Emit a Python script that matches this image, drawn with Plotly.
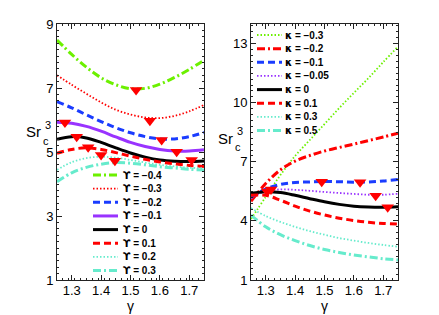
import plotly.graph_objects as go

# ---------------- data ----------------
gamma = [1.25, 1.30, 1.35, 1.40, 1.45, 1.50, 1.55, 1.60, 1.65, 1.70, 1.75]

# left panel: Sr_c^3 vs gamma for several Upsilon
ups_labels = ["ϒ = −0.4", "ϒ = −0.3", "ϒ = −0.2", "ϒ = −0.1",
              "ϒ = 0", "ϒ = 0.1", "ϒ = 0.2", "ϒ = 0.3"]
sr_ups_m04 = [8.50, 8.05, 7.65, 7.32, 7.10, 6.98, 6.99, 7.12, 7.33, 7.58, 7.87]
sr_ups_m03 = [7.40, 7.10, 6.82, 6.55, 6.32, 6.17, 6.08, 6.06, 6.13, 6.27, 6.47]
sr_ups_m02 = [6.57, 6.38, 6.16, 5.95, 5.76, 5.60, 5.48, 5.41, 5.41, 5.48, 5.61]
sr_ups_m01 = [5.93, 5.90, 5.80, 5.65, 5.47, 5.30, 5.17, 5.08, 5.03, 5.03, 5.07]
sr_ups_0 = [5.40, 5.48, 5.44, 5.30, 5.13, 4.97, 4.84, 4.75, 4.71, 4.70, 4.72]
sr_ups_p01 = [4.96, 5.08, 5.13, 5.08, 4.98, 4.87, 4.77, 4.69, 4.63, 4.58, 4.55]
sr_ups_p02 = [4.44, 4.68, 4.81, 4.85, 4.82, 4.75, 4.67, 4.60, 4.55, 4.51, 4.49]
sr_ups_p03 = [4.07, 4.35, 4.52, 4.62, 4.67, 4.65, 4.60, 4.54, 4.50, 4.46, 4.44]

# extrema markers (left)
ext_ups_gamma = [1.277, 1.317, 1.356, 1.400, 1.447, 1.519, 1.566, 1.606, 1.657, 1.708]
ext_ups_sr = [5.92, 5.48, 5.15, 4.91, 4.73, 6.94, 5.98, 5.375, 5.01, 4.75]

# right panel: Sr_c^3 vs gamma for several kappa
kap_labels = ["κ = −0.3", "κ = −0.2", "κ = −0.1", "κ = −0.05",
              "κ = 0", "κ = 0.1", "κ = 0.3", "κ = 0.5"]
sr_kap_m03 = [4.10, 5.22, 6.33, 7.30, 8.11, 8.92, 9.73, 10.50, 11.26, 12.07, 12.85]
sr_kap_m02 = [5.00, 5.90, 6.59, 7.04, 7.32, 7.55, 7.73, 7.90, 8.08, 8.26, 8.45]
sr_kap_m01 = [5.20, 5.62, 5.85, 5.95, 5.98, 6.00, 5.99, 5.97, 5.98, 6.03, 6.11]
sr_kap_m005 = [5.15, 5.52, 5.60, 5.58, 5.53, 5.47, 5.42, 5.37, 5.33, 5.33, 5.38]
sr_kap_0 = [5.40, 5.48, 5.44, 5.30, 5.13, 4.97, 4.84, 4.75, 4.71, 4.70, 4.72]
sr_kap_p01 = [5.30, 5.30, 5.05, 4.75, 4.50, 4.30, 4.14, 4.02, 3.93, 3.87, 3.84]
sr_kap_p03 = [4.65, 4.25, 3.95, 3.70, 3.48, 3.30, 3.13, 3.00, 2.88, 2.78, 2.69]
sr_kap_p05 = [4.30, 3.70, 3.30, 3.00, 2.75, 2.55, 2.40, 2.27, 2.17, 2.08, 2.02]

ext_kap_gamma = [1.305, 1.318, 1.4905, 1.621, 1.674, 1.715]
ext_kap_sr = [5.50, 5.60, 5.99, 5.96, 5.28, 4.69]

x_ticks = [1.3, 1.4, 1.5, 1.6, 1.7]
x_ticktext = ["1.3", "1.4", "1.5", "1.6", "1.7"]
y1_ticks = [1, 3, 5, 7, 9]
y2_ticks = [1, 4, 7, 10, 13]

# ---------------- styles ----------------
GREEN = "#6CF000"
RED = "#FF0000"
BLUE = "#1A3CFF"
PURPLE = "#9933FF"
AQUA = "#66EBCC"
DOT = "1.5px,2px"
DASH = "7px,4px"
DASHDOT = "8px,3px,2px,3px"

ups_series = [sr_ups_m04, sr_ups_m03, sr_ups_m02, sr_ups_m01,
              sr_ups_0, sr_ups_p01, sr_ups_p02, sr_ups_p03]
ups_styles = [
    dict(color=GREEN, width=3, dash=DASHDOT),
    dict(color=RED, width=1.8, dash=DOT),
    dict(color=BLUE, width=3, dash=DASH),
    dict(color=PURPLE, width=3, dash="solid"),
    dict(color="black", width=3, dash="solid"),
    dict(color=RED, width=3, dash=DASH),
    dict(color=AQUA, width=1.8, dash=DOT),
    dict(color=AQUA, width=3, dash=DASHDOT),
]
kap_series = [sr_kap_m03, sr_kap_m02, sr_kap_m01, sr_kap_m005,
              sr_kap_0, sr_kap_p01, sr_kap_p03, sr_kap_p05]
kap_styles = [
    dict(color=GREEN, width=1.8, dash=DOT),
    dict(color=RED, width=3, dash=DASHDOT),
    dict(color=BLUE, width=3, dash=DASH),
    dict(color=PURPLE, width=1.8, dash=DOT),
    dict(color="black", width=3, dash="solid"),
    dict(color=RED, width=3, dash=DASH),
    dict(color=AQUA, width=1.8, dash=DOT),
    dict(color=AQUA, width=3, dash=DASHDOT),
]

W, H = 439, 315
PAGE_OFF = 8  # default body margin of the html page
FONT = "Liberation Sans, Arial, Helvetica, sans-serif"
SYMFONT = "DejaVu Sans"

fig = go.Figure()
for sr, st, lab in zip(ups_series, ups_styles, ups_labels):
    fig.add_trace(go.Scatter(x=gamma, y=sr, mode="lines", name=lab,
                             line=dict(shape="spline", **st),
                             xaxis="x", yaxis="y", showlegend=False))
fig.add_trace(go.Scatter(x=ext_ups_gamma, y=ext_ups_sr, mode="markers",
                         marker=dict(symbol="triangle-down", size=11, color=RED,
                                     line=dict(width=0)),
                         xaxis="x", yaxis="y", showlegend=False))
for sr, st, lab in zip(kap_series, kap_styles, kap_labels):
    fig.add_trace(go.Scatter(x=gamma, y=sr, mode="lines", name=lab,
                             line=dict(shape="spline", **st),
                             xaxis="x2", yaxis="y2", showlegend=False))
fig.add_trace(go.Scatter(x=ext_kap_gamma, y=ext_kap_sr, mode="markers",
                         marker=dict(symbol="triangle-down", size=11, color=RED,
                                     line=dict(width=0)),
                         xaxis="x2", yaxis="y2", showlegend=False))


def px_x(p):
    return (p - PAGE_OFF) / W


def px_y(p):
    return 1 - (p - PAGE_OFF) / H


def fmt_label(lab):
    head, rest = lab[0], lab[1:]
    return ('<b><span style="font-family:%s">%s</span>%s</b>' % (SYMFONT, head, rest))


# ---------------- legends (drawn in paper space) ----------------
shapes = []
annotations = []


def build_legend(labels, styles, x0, x1, xt, ytop, step):
    for i, (lab, st) in enumerate(zip(labels, styles)):
        yy = ytop + i * step
        shapes.append(dict(type="line", xref="paper", yref="paper",
                           x0=px_x(x0), x1=px_x(x1), y0=px_y(yy), y1=px_y(yy),
                           line=dict(color=st["color"], width=st["width"],
                                     dash=st["dash"])))
        annotations.append(dict(text=fmt_label(lab), xref="paper", yref="paper",
                                x=px_x(xt), y=px_y(yy), xanchor="left",
                                yanchor="middle", showarrow=False,
                                font=dict(size=10, color="black", family=FONT)))


build_legend(ups_labels, ups_styles, 93, 118, 121, 175, 13.65)
build_legend(kap_labels, kap_styles, 257, 282, 283, 35, 13.65)

# y-axis labels  Sr_c^3
for (sx, sy) in [(43, 132), (235, 138)]:
    annotations.append(dict(text="Sr", xref="paper", yref="paper", x=px_x(sx),
                            y=px_y(sy), xanchor="right", yanchor="middle",
                            showarrow=False, font=dict(size=15, family=FONT, color="black")))
    annotations.append(dict(text="3", xref="paper", yref="paper", x=px_x(sx),
                            y=px_y(sy - 7), xanchor="left", yanchor="middle",
                            showarrow=False, font=dict(size=11, family=FONT, color="black")))
    annotations.append(dict(text="c", xref="paper", yref="paper", x=px_x(sx - 2),
                            y=px_y(sy + 9), xanchor="left", yanchor="middle",
                            showarrow=False, font=dict(size=11, family=FONT, color="black")))

# x-axis titles
for cx in [130.5, 324.5]:
    annotations.append(dict(text="γ", xref="paper", yref="paper", x=px_x(cx),
                            y=px_y(306), xanchor="center", yanchor="middle",
                            showarrow=False, font=dict(size=14, family=FONT, color="black")))

axis_common = dict(showline=True, linecolor="#222", linewidth=1, mirror="allticks",
                   ticks="inside", ticklen=5, tickcolor="#222", showgrid=False,
                   zeroline=False, tickfont=dict(size=13, family=FONT, color="black"))

fig.update_layout(
    width=W, height=H,
    margin=dict(l=0, r=0, t=0, b=0, autoexpand=False),
    paper_bgcolor="white", plot_bgcolor="white",
    showlegend=False,
    xaxis=dict(domain=[px_x(57), px_x(204)], range=[1.25, 1.75], anchor="y",
               tickvals=x_ticks, ticktext=x_ticktext, ticklabelstandoff=-2,
               minor=dict(ticks="inside", ticklen=2, dtick=0.02, tick0=1.25,
                          tickcolor="#222"), **axis_common),
    yaxis=dict(domain=[px_y(280), px_y(24)], range=[1, 9], anchor="x",
               tickvals=y1_ticks,
               minor=dict(ticks="inside", ticklen=2, dtick=0.2, tick0=1,
                          tickcolor="#222"), **axis_common),
    xaxis2=dict(domain=[px_x(251), px_x(398)], range=[1.25, 1.75], anchor="y2",
                tickvals=x_ticks, ticktext=x_ticktext, ticklabelstandoff=-2,
                minor=dict(ticks="inside", ticklen=2, dtick=0.02, tick0=1.25,
                           tickcolor="#222"), **axis_common),
    yaxis2=dict(domain=[px_y(280), px_y(24)], range=[1, 14], anchor="x2",
                tickvals=y2_ticks,
                minor=dict(ticks="inside", ticklen=2, dtick=0.3, tick0=1,
                           tickcolor="#222"), **axis_common),
    shapes=shapes,
    annotations=annotations,
)

fig.write_html("out.html")
